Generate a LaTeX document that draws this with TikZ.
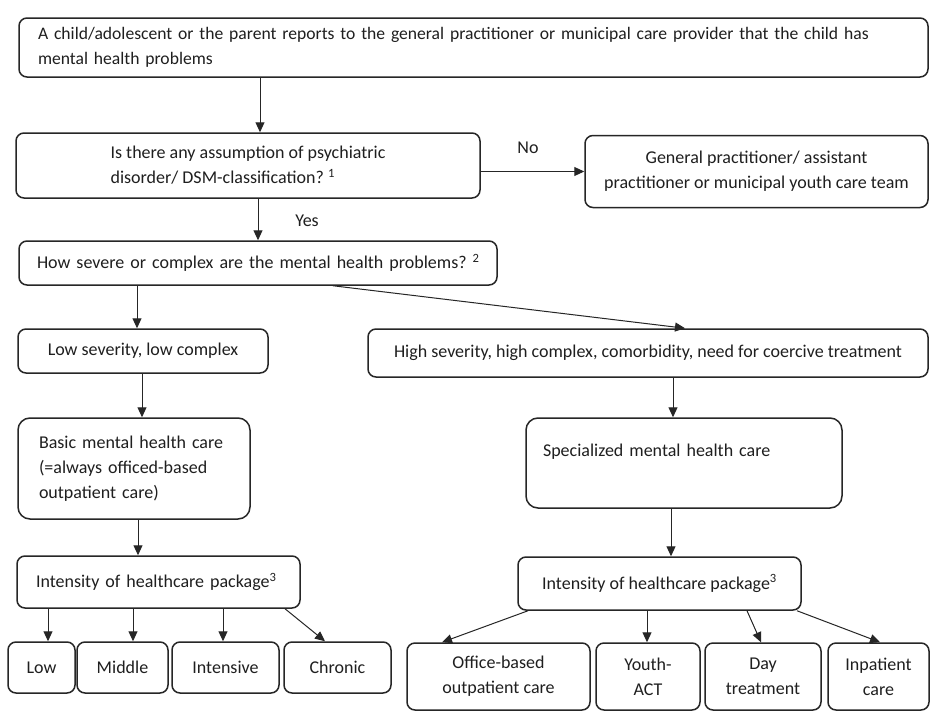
\documentclass[tikz,border=0pt]{standalone}
\usepackage{fontspec}
\setmainfont{Carlito}
\usetikzlibrary{arrows.meta}
\begin{document}
\begin{tikzpicture}[x=1pt,y=-1pt,
  box/.style={draw=black!85, line width=1.5pt, rounded corners=8pt, fill=white,
    text=black!88, inner sep=0pt, font=\fontsize{18}{25}\selectfont},
  bigbox/.style={box, rounded corners=12pt},
  arr/.style={draw=black!85, line width=1pt, -{Triangle[length=10pt,width=9pt]}},
  lbl/.style={text=black!88, inner sep=0pt, font=\fontsize{18}{25}\selectfont}]
\useasboundingbox[fill=white] (0,0) rectangle (931,712);

% boxes
\node[box, minimum width=909pt, minimum height=59pt, text width=871pt, align=left,
  font=\fontsize{17.6}{25}\selectfont] (top) at (473.5,47.5)
  {\mbox{A child/adolescent or the parent reports to the general practitioner or municipal care provider that the child has}\\mental health problems};
\node[box, minimum width=464pt, minimum height=65pt, align=left] (dec) at (248,165.5)
  {Is there any assumption of psychiatric\\disorder/ DSM-classification?~\textsuperscript{1}};
\node[box, minimum width=343pt, minimum height=72pt, align=center] (gp) at (756.5,171.5)
  {General practitioner/ assistant\\practitioner or municipal youth care team};
\node[box, minimum width=478pt, minimum height=44pt, text width=442pt, align=left] (sev) at (258,263)
  {\mbox{How severe or complex are the mental health problems?~\textsuperscript{2}}};
\node[box, minimum width=250pt, minimum height=44pt] (low) at (143,351)
  {Low severity, low complex};
\node[box, minimum width=560pt, minimum height=48pt] (high) at (648,353)
  {High severity, high complex, comorbidity, need for coercive treatment};
\node[bigbox, minimum width=232pt, minimum height=101pt, text width=190pt, align=left] (basic) at (134,468.5)
  {Basic mental health care\\(=always officed-based\\outpatient care)};
\node[bigbox, minimum width=316pt, minimum height=90pt, text width=282pt, align=left] (spec) at (684,463)
  {Specialized mental health care\\\mbox{}};
\node[box, minimum width=283pt, minimum height=52pt, text width=245pt, align=left] (intL) at (158.5,582)
  {\mbox{Intensity of healthcare package\textsuperscript{3}}};
\node[box, minimum width=283pt, minimum height=53pt, align=center] (intR) at (659.5,583.5)
  {Intensity of healthcare package\textsuperscript{3}};

\node[box, minimum width=67pt, minimum height=51pt] (lowb) at (41.5,667.5) {Low};
\node[box, minimum width=91pt, minimum height=51pt] (mid) at (122.5,667.5) {Middle};
\node[box, minimum width=107pt, minimum height=51pt] (ints) at (225.5,667.5) {Intensive};
\node[box, minimum width=107pt, minimum height=51pt] (chr) at (337.5,667.5) {Chronic};

\node[box, minimum width=183pt, minimum height=67pt, align=center] (off) at (498.5,676.5) {Office-based\\outpatient care};
\node[box, minimum width=104pt, minimum height=67pt, align=center] (yact) at (648,676.5) {Youth-\\ACT};
\node[box, minimum width=116pt, minimum height=67pt, align=center] (day) at (763,676.5) {Day\\treatment};
\node[box, minimum width=101pt, minimum height=67pt, align=center] (inp) at (878.5,676.5) {Inpatient\\care};

% labels
\node[lbl] (no) at (528,148) {No};
\node[lbl] (yes) at (307,221) {Yes};

% helper x positions
\coordinate (xa) at (260,0);
\coordinate (xb) at (258,0);
\coordinate (xc) at (137,0);
\coordinate (xd) at (333,0);
\coordinate (xe) at (685,0);
\coordinate (xf) at (142,0);
\coordinate (xg) at (673,0);
\coordinate (xh) at (138,0);
\coordinate (xi) at (671,0);
\coordinate (l1) at (48,0);
\coordinate (l2) at (133,0);
\coordinate (l3) at (223,0);
\coordinate (l4a) at (285,0);
\coordinate (l4b) at (325,0);
\coordinate (r1a) at (528,0);
\coordinate (r1b) at (442,0);
\coordinate (r2) at (647,0);
\coordinate (r3a) at (747,0);
\coordinate (r3b) at (761,0);
\coordinate (r4a) at (797,0);
\coordinate (r4b) at (880,0);

% connectors
\draw[arr] (xa |- top.south) -- (xa |- dec.north);
\draw[arr] (dec.east |- gp.west) -- (gp.west);
\draw[arr] (xb |- dec.south) -- (xb |- sev.north);
\draw[arr] (xc |- sev.south) -- (xc |- low.north);
\draw[arr] (xd |- sev.south) -- (xe |- high.north);
\draw[arr] (xf |- low.south) -- (xf |- basic.north);
\draw[arr] (xg |- high.south) -- (xg |- spec.north);
\draw[arr] (xh |- basic.south) -- (xh |- intL.north);
\draw[arr] (xi |- spec.south) -- (xi |- intR.north);

\draw[arr] (l1 |- intL.south) -- (l1 |- lowb.north);
\draw[arr] (l2 |- intL.south) -- (l2 |- mid.north);
\draw[arr] (l3 |- intL.south) -- (l3 |- ints.north);
\draw[arr] (l4a |- intL.south) -- (l4b |- chr.north);

\draw[arr] (r1a |- intR.south) -- (r1b |- off.north);
\draw[arr] (r2 |- intR.south) -- (r2 |- yact.north);
\draw[arr] (r3a |- intR.south) -- (r3b |- day.north);
\draw[arr] (r4a |- intR.south) -- (r4b |- inp.north);
\end{tikzpicture}
\end{document}
